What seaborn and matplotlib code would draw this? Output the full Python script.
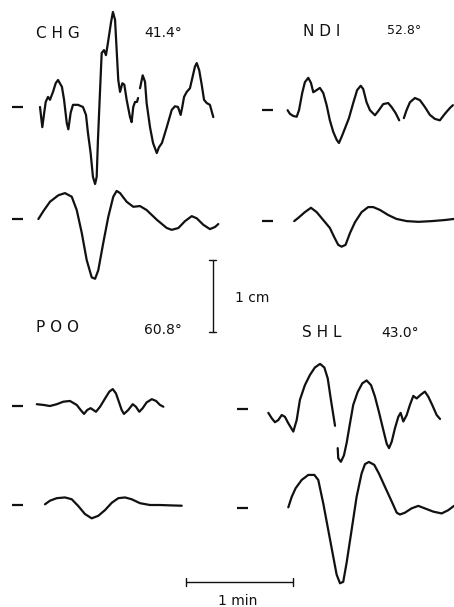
import numpy as np
import pandas as pd
import matplotlib
matplotlib.use("Agg")
import matplotlib.pyplot as plt
import seaborn as sns

# ---- recorded (upper) and synthetic (lower) waveforms; time in s, amplitude in mm ----
# NaN marks a break in the trace
chg_obs_t = [15.7, 17.0, 17.9, 18.9, 20.2, 21.3, 23.0, 24.5, 25.8, 28.0, 29.2, 30.7, 31.6, 32.9, 34.2,
             37.0, 39.8, 41.5, 42.6, 44.1, 45.4, 46.6, 47.5, 48.2, 49.4, 50.3, 51.6, 52.7, 53.8, 55.5,
             56.6, 57.8, 58.7, 59.6, 60.6, 61.9, 63.0, 64.3, 66.2, 67.1, 68.0, 69.0, 70.1, 70.7, np.nan,
             71.8, 73.3, 74.6, 75.5, 77.4, 79.1, 81.2, 82.4, 84.1, 86.8, 89.6, 91.4, 93.1, 94.6, 95.5,
             96.5, 98.0, 99.8, 101.3, 102.6, 103.6, 105.0, 106.4, 107.7, 109.2, 111.0, 112.9]
chg_obs_a = [0.0, -2.8, -1.1, 0.7, 1.4, 1.0, 2.1, 3.3, 3.75, 2.8, 1.0, -2.2, -3.1, -0.8, 0.3,
             0.3, 0.0, -1.1, -3.6, -6.4, -9.7, -10.7, -9.7, -4.6, 2.4, 7.5, 7.9, 7.2, 8.9, 11.7,
             13.2, 12.1, 7.9, 3.75, 2.1, 3.3, 3.1, 1.0, -1.4, -2.1, 0.0, 0.7, 0.7, 1.25, np.nan,
             2.6, 4.4, 3.5, 0.55, -2.8, -5.0, -6.4, -5.6, -5.0, -2.8, -0.4, 0.1, 0.0, -1.1, 0.0,
             1.4, 2.1, 2.6, 4.2, 5.6, 6.1, 5.1, 3.1, 1.0, 0.55, 0.3, -1.4]
chg_syn_t = [14.8, 17.6, 21.3, 26.0, 29.7, 33.5, 36.3, 39.1, 41.9, 44.7, 46.6, 48.4, 51.2, 54.0, 56.8,
             58.7, 60.6, 64.3, 68.0, 71.8, 75.5, 81.2, 86.8, 89.6, 93.3, 97.0, 100.8, 103.6, 107.3,
             111.0, 113.9, 115.7]
chg_syn_a = [0.0, 1.1, 2.4, 3.3, 3.6, 3.1, 1.25, -1.9, -5.7, -8.1, -8.3, -7.1, -3.3, 0.3, 3.1,
             3.9, 3.6, 2.4, 1.7, 1.8, 1.25, -0.1, -1.25, -1.5, -1.25, -0.3, 0.4, 0.1, -0.8,
             -1.4, -1.1, -0.7]

ndi_obs_t = [14.4, 15.7, 17.6, 19.5, 20.8, 22.6, 24.1, 26.0, 27.5, 28.8, 30.7, 32.5, 34.4, 36.3, 38.1,
             40.0, 41.9, 43.2, 44.7, 46.6, 48.8, 51.2, 53.4, 55.4, 56.8, 58.7, 60.6, 63.4, 65.6, 68.0,
             70.8, 72.7, 75.0, 77.0, np.nan, 79.6, 81.1, 83.0, 85.8, 88.6, 91.4, 94.2, 97.0, 99.8,
             102.6, 105.4, 107.1]
ndi_obs_a = [-0.1, -0.6, -0.9, -1.0, -0.1, 2.3, 3.8, 4.4, 3.7, 2.4, 2.7, 3.0, 2.3, 0.6, -1.5,
             -3.1, -4.2, -4.65, -3.8, -2.6, -1.2, 0.9, 2.7, 3.3, 2.85, 1.0, -0.1, -0.8, -0.1, 0.75,
             0.9, 0.35, -0.5, -1.5, np.nan, -1.2, -0.1, 1.0, 1.6, 1.3, 0.35, -0.75, -1.3, -1.5,
             -0.6, 0.2, 0.6]
ndi_syn_t = [18.1, 20.4, 24.1, 27.5, 30.7, 34.4, 38.1, 40.5, 42.8, 44.7, 46.9, 49.4, 52.2, 55.9, 59.6,
             62.4, 66.2, 70.8, 75.5, 81.2, 87.7, 95.2, 102.6, 107.7]
ndi_syn_a = [0.05, 0.5, 1.3, 1.9, 1.3, 0.2, -0.9, -2.15, -3.25, -3.5, -3.25, -1.6, -0.1, 1.3, 2.0,
             2.0, 1.6, 0.9, 0.35, 0.05, -0.05, 0.05, 0.2, 0.35]

poo_obs_t = [13.9, 17.6, 21.3, 25.1, 28.8, 32.5, 36.3, 38.5, 40.4, 42.2, 44.1, 47.1, 49.4, 52.2, 54.6,
             56.5, 58.3, 60.2, 61.5, 62.8, 65.2, 67.7, 69.5, 71.4, 73.3, 75.5, 78.4, 80.8, 83.0, 84.9]
poo_obs_a = [0.25, 0.15, 0.0, 0.25, 0.6, 0.7, 0.15, -0.55, -1.1, -0.55, -0.3, -0.8, -0.1, 1.05, 2.0,
             2.35, 1.75, 0.4, -0.55, -1.1, -0.55, 0.25, -0.1, -0.8, -0.3, 0.5, 0.95, 0.7, 0.15, -0.1]
poo_syn_t = [18.5, 21.3, 25.1, 29.7, 33.5, 37.2, 40.9, 44.7, 48.4, 52.2, 55.9, 59.6, 63.4, 67.1, 71.8,
             77.4, 83.0, 88.6, 95.2]
poo_syn_a = [0.1, 0.6, 0.95, 1.05, 0.8, -0.15, -1.25, -1.85, -1.5, -0.7, 0.3, 0.95, 1.05, 0.8, 0.25,
             0.0, 0.0, -0.05, -0.1]

shl_obs_t = [17.6, 19.5, 21.3, 23.2, 25.1, 26.9, 28.8, 31.6, 33.5, 35.3, 38.1, 40.9, 43.7, 46.6, 49.0,
             50.9, 52.7, 55.0, np.nan, 56.5, 56.8, 58.3, 60.0, 61.5, 63.4, 65.2, 67.7, 70.3, 72.7, 75.2,
             77.4, 79.6, 82.1, 84.0, 85.3, 86.8, 88.6, 90.5, 91.8, 93.3, 95.2, 97.0, 98.9, 100.8,
             103.0, 105.4, 107.3, 109.5, 112.0, 113.9]
shl_obs_a = [-0.6, -1.35, -1.9, -1.6, -0.9, -1.15, -2.05, -3.2, -1.6, 1.2, 3.25, 4.65, 5.7, 6.2, 5.7,
             4.2, 1.2, -2.4, np.nan, -5.5, -6.9, -7.4, -6.5, -4.8, -2.05, 0.5, 2.3, 3.5, 3.9, 3.25,
             1.65, -0.45, -3.0, -4.9, -5.5, -4.6, -2.75, -1.15, -0.6, -1.8, -0.9, 0.5, 1.75, 1.4,
             1.9, 2.35, 1.65, 0.5, -0.9, -1.45]
shl_syn_t = [28.8, 30.7, 32.9, 36.3, 40.0, 43.4, 45.6, 48.4, 51.2, 54.0, 55.9, 57.8, 59.6, 61.5, 64.3,
             67.1, 69.9, 71.8, 74.0, 77.0, 79.6, 83.0, 86.8, 89.6, 91.4, 94.2, 97.9, 101.7, 105.4,
             110.1, 114.8, 118.5, 121.7]
shl_syn_a = [0.1, 1.55, 2.75, 3.9, 4.6, 4.6, 3.9, 0.65, -3.05, -6.75, -9.25, -10.45, -10.25, -7.6, -3.05,
             1.55, 4.8, 6.1, 6.4, 6.0, 4.8, 2.95, 0.9, -0.65, -0.9, -0.65, -0.05, 0.3, -0.05,
             -0.5, -0.75, -0.3, 0.3]

stations = ["CHG", "NDI", "POO", "SHL"]
distances = ["41.4°", "52.8°", "60.8°", "43.0°"]

# ---- layout: page coordinates in seconds (x) and mm (y, downward negative) ----
W_PX, H_PX = 454, 607
PX_PER_S, PX_PER_MM = 1.783, 7.2
X_MAX, Y_MIN = W_PX / PX_PER_S, -H_PX / PX_PER_MM

# trace start (s) and baselines (mm) for each station panel
panels = {
    "CHG": dict(x0=6.73, base=(-14.86, -30.42), obs=(chg_obs_t, chg_obs_a), syn=(chg_syn_t, chg_syn_a)),
    "NDI": dict(x0=146.9, base=(-15.21, -30.76), obs=(ndi_obs_t, ndi_obs_a), syn=(ndi_syn_t, ndi_syn_a)),
    "POO": dict(x0=6.73, base=(-56.39, -70.14), obs=(poo_obs_t, poo_obs_a), syn=(poo_syn_t, poo_syn_a)),
    "SHL": dict(x0=132.9, base=(-56.74, -70.56), obs=(shl_obs_t, shl_obs_a), syn=(shl_syn_t, shl_syn_a)),
}

sns.set_theme(style="white")
plt.rcParams["font.family"] = ["DejaVu Sans"]

fig = plt.figure(figsize=(W_PX / 100, H_PX / 100), dpi=100)
ax = fig.add_axes([0, 0, 1, 1])
ax.set_xlim(0, X_MAX)
ax.set_ylim(Y_MIN, 0)
ax.axis("off")

TRACE_LW = 1.6
INK = "#111111"


def draw_trace(t, a, x0, base):
    t = np.asarray(t, float)
    a = np.asarray(a, float)
    gaps = np.where(np.isnan(t))[0]
    starts = np.r_[0, gaps + 1]
    ends = np.r_[gaps, len(t)]
    for s, e in zip(starts, ends):
        df = pd.DataFrame({"x": x0 + t[s:e], "y": base + a[s:e]})
        sns.lineplot(data=df, x="x", y="y", ax=ax, sort=False, estimator=None,
                     color=INK, linewidth=TRACE_LW, legend=False)
    # baseline marker to the left of the trace
    ax.plot([x0, x0 + 6.2], [base, base], color=INK, lw=TRACE_LW, solid_capstyle="butt")


for name, p in panels.items():
    for (t, a), base in zip((p["obs"], p["syn"]), p["base"]):
        draw_trace(t, a, p["x0"], base)


def fig_text(xpx, ypx, s, size, ha="center"):
    fig.text(xpx / W_PX, 1 - ypx / H_PX, s, ha=ha, va="center", fontsize=size, color=INK)


label_pos = {"CHG": (58, 33, 163, 33), "NDI": (322, 31, 404, 31),
             "POO": (58, 327, 163, 330), "SHL": (322, 333, 400, 333)}
for name, dist in zip(stations, distances):
    lx, ly, dx, dy = label_pos[name]
    fig_text(lx, ly, " ".join(name), 11)
    fig_text(dx, dy, dist, 10 if name != "NDI" else 9)

# amplitude scale: 1 cm
bar_x = 119.3
bar_top, bar_len = -36.1, 10.0
ax.plot([bar_x, bar_x], [bar_top, bar_top - bar_len], color=INK, lw=1.0)
for yy in (bar_top, bar_top - bar_len):
    ax.plot([bar_x - 1.9, bar_x + 1.9], [yy, yy], color=INK, lw=1.0)
fig_text(235, 298, "1 cm", 10, ha="left")

# time scale: 1 min
tb_x, tb_len, tb_y = 104.3, 60.0, -80.83
ax.plot([tb_x, tb_x + tb_len], [tb_y, tb_y], color=INK, lw=1.0)
for xx in (tb_x, tb_x + tb_len):
    ax.plot([xx, xx], [tb_y - 0.6, tb_y + 0.6], color=INK, lw=1.0)
fig_text(238, 601, "1 min", 10)

fig.savefig("out.png", dpi=100, facecolor="white")
